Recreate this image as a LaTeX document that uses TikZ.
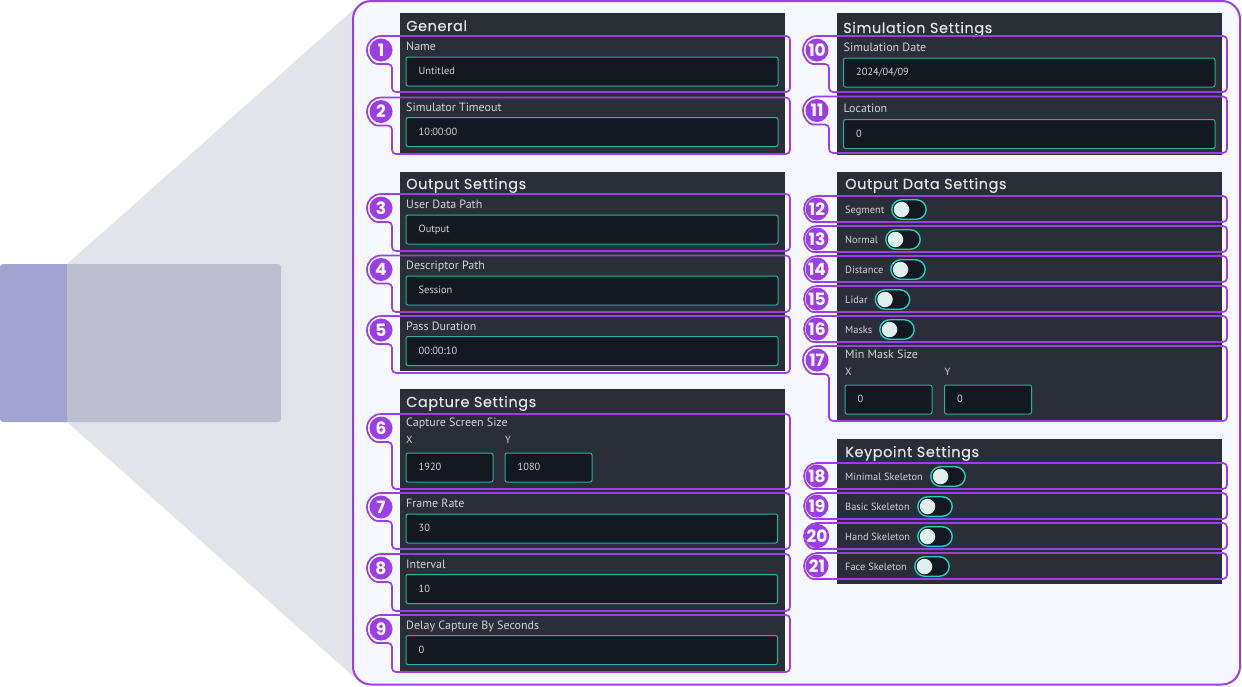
\documentclass[tikz,border=0pt]{standalone}
\usepackage{fontspec}
\setmainfont{PT Sans}
\newfontfamily\titlefont[LetterSpace=4, FakeBold=0.25]{Poppins}
\newfontfamily\badgefont{Poppins}
\usetikzlibrary{positioning}

\definecolor{panelbg}{HTML}{F5F8FF}
\definecolor{markerc}{HTML}{9B3FE4}
\definecolor{cardc}{HTML}{2A2E38}
\definecolor{inputc}{HTML}{141820}
\definecolor{linec}{HTML}{2AAFA2}
\definecolor{togglec}{HTML}{26CFC0}
\definecolor{knobc}{HTML}{DFF0EC}
\definecolor{textc}{HTML}{D2D4D8}
\definecolor{funnelc}{RGB}{227,228,234}
\definecolor{frontc}{RGB}{191,190,209}
\definecolor{backc}{RGB}{163,163,209}

\tikzset{
	card/.style = {fill = cardc, draw = none, anchor = north west, inner sep = 0, outer sep = 0},
	inputbox/.style = {fill = inputc, draw = linec, line width = 1pt, rounded corners = 2pt, anchor = north west, inner sep = 0, outer sep = 0, minimum height = 29pt},
	title/.style = {anchor = base west, inner sep = 0, text = textc!60!white, font = \titlefont\fontsize{14.5}{15}\selectfont},
	field/.style = {anchor = base west, inner sep = 0, text = textc, font = \fontsize{12}{12}\selectfont},
	small/.style = {anchor = base west, inner sep = 0, text = textc, font = \fontsize{10.4}{12}\selectfont},
	badge/.style = {circle, fill = markerc, draw = none, minimum size = 23pt, inner sep = 0, text = white, font = \badgefont\bfseries\fontsize{17}{17}\selectfont},
	marker/.style = {draw = markerc, line width = 1.7pt, rounded corners = 4pt},
	toggle/.style = {fill = inputc, draw = togglec, line width = 1.4pt, rounded corners = 9.9pt, minimum width = 34.5pt, minimum height = 19.5pt, inner sep = 0},
	knob/.style = {circle, fill = knobc, draw = none, minimum size = 15.5pt, inner sep = 0}
}

\begin{document}
\begin{tikzpicture}[x = 1pt, y = -1pt]

	% Definitions

	\def\Ra{14}		% Radius of line round a badge

	\useasboundingbox (0, 0) rectangle (1242, 686);

	% Draw zoom funnel and panel

	\fill [funnelc] (67, 264) -- (355, 8) -- (355, 678) -- (67, 422) -- cycle;
	\fill [frontc, rounded corners = 3pt] (60, 264) rectangle (281, 422);
	\fill [backc, rounded corners = 3pt] (0, 264) rectangle (70, 422);
	\fill [frontc] (67, 264) rectangle (75, 422);
	\draw [fill = panelbg, draw = markerc, line width = 2pt, rounded corners = 18pt] (353, 1) rectangle (1240, 684.5);

	% Draw cards

	\foreach \id/\x/\t/\h in {general/400/13/140, output/400/172/199, capture/400/389/282, simulation/837/13/142, data/837/172/250, keypoint/837/439/145}
		\node [card, minimum width = 385pt, minimum height = \h pt] (\id) at (\x, \t) {};

	% Draw card titles

	\foreach \id/\x/\y/\s in {general/406/31/General, output/406/189/Output Settings, capture/406/407/Capture Settings, simulation/843/33/Simulation Settings, data/845/189/Output Data Settings, keypoint/845/457/Keypoint Settings}
		\node [title] (title-\id) at (\x, \y) {\s};

	% Draw wide fields

	\foreach \id/\x/\w/\l/\t/\s/\v in {a/406/372/50/57/Name/Untitled, b/406/372/111/117.5/Simulator Timeout/10:00:00, c/406/372/208/215/User Data Path/Output, d/406/372/269/276/Descriptor Path/Session, e/406/372/330/336.5/Pass Duration/00:00:10, f/406/371.5/507/514/Frame Rate/30, g/406/371.5/568/574.5/Interval/10, h/406/371.5/629/635.5/Delay Capture By Seconds/0, i/843.5/371.5/51.5/58/Simulation Date/{2024/04/09}, j/843.5/371.5/112.5/119.5/Location/0}
	{
		\node [field] (label-\id) at (\x, \l) {\s};
		\node [inputbox, minimum width = \w pt] (input-\id) at (\x, \t) {};
		\node [small] (value-\id) at (\x + 12.5, \t + 17.5) {\v};
	}

	% Draw fields with two values

	\foreach \id/\x/\xb/\l/\t/\s/\va/\vb in {k/406/505/426/453/Capture Screen Size/1920/1080, l/845/944.5/358/385/Min Mask Size/0/0}
	{
		\node [field] (label-\id) at (\x, \l) {\s};
		\node [small] (name-\id x) at (\x, \t - 10) {X};
		\node [small] (name-\id y) at (\xb, \t - 10) {Y};
		\node [inputbox, minimum width = 87pt] (input-\id x) at (\x, \t) {};
		\node [inputbox, minimum width = 87pt] (input-\id y) at (\xb, \t) {};
		\node [small] (value-\id x) at (\x + 12.5, \t + 17.5) {\va};
		\node [small] (value-\id y) at (\xb + 12.5, \t + 17.5) {\vb};
	}

	% Draw toggles

	\foreach \id/\c/\y/\s in {m/909/209.5/Segment, n/903/239.5/Normal, o/908/269.5/Distance, p/892.5/299.5/Lidar, q/897/329.5/Masks, r/948/476.5/Minimal Skeleton, s/935/506.5/Basic Skeleton, t/935/536.5/Hand Skeleton, u/932/566.5/Face Skeleton}
	{
		\node [small] (label-\id) at (845, \y + 3.8) {\s};
		\node [toggle] (toggle-\id) at (\c, \y) {};
		\node [knob] (knob-\id) at (\c - 7.5, \y) {};
	}

	% Draw markers for tall rows

	\foreach \n/\c/\t/\b/\l/\r in {1/381/50/92/392/790, 2/381/111.5/154/392/790, 3/381/208/251/392/790, 4/381/269.5/312/392/790, 5/381/330/373/392/790, 6/381/428/489/392/790, 7/381/507/549/392/790, 8/381/568/611/392/790, 9/381/629/672/392/790, 10/817/50/92/829/1227, 11/817/110.5/153/829/1227, 17/817/360/421/829/1227}
	{
		\draw [marker] (\c, \t - \Ra) -- (\r, \t - \Ra) -- (\r, \b) -- (\l, \b) -- (\l, \t + \Ra) -- (\c, \t + \Ra) arc (90 : 270 : \Ra);
		\node [badge] (badge\n) at (\c, \t) {\n};
	}

	% Draw markers for toggle rows

	\foreach \n/\t in {12/209, 13/239, 14/269, 15/299, 16/329, 18/476, 19/506, 20/536, 21/566}
	{
		\draw [marker] (817, \t - 13) -- (1227, \t - 13) -- (1227, \t + 13) -- (817, \t + 13) arc (90 : 270 : 13);
		\node [badge] (badge\n) at (817, \t) {\n};
	}

\end{tikzpicture}
\end{document}
